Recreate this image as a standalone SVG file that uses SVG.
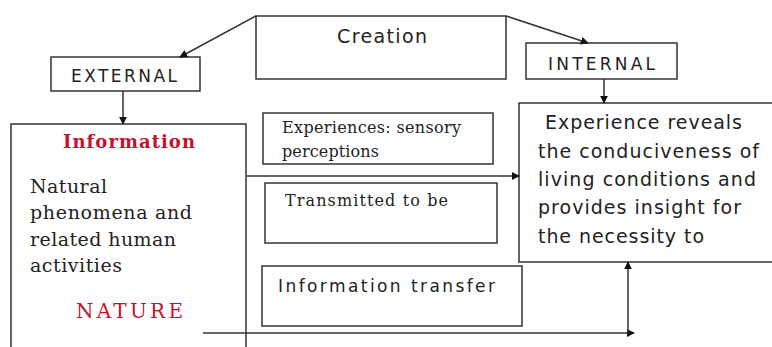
<svg xmlns="http://www.w3.org/2000/svg" width="772" height="347" viewBox="0 0 772 347">
<defs>
<style>
.box{fill:#fff;stroke:#333;stroke-width:1.5}
.ln{fill:none;stroke:#333;stroke-width:1.5}
.sans{font-family:"DejaVu Sans","Open Sans",sans-serif;fill:#222}
.serif{font-family:"DejaVu Serif","Liberation Serif",serif;fill:#222}
.red{fill:#c8102e}
</style>
<marker id="ah" viewBox="0 0 10 10" refX="9" refY="5" markerWidth="8" markerHeight="8" markerUnits="userSpaceOnUse" orient="auto">
<path d="M0,0 L10,5 L0,10 Z" fill="#111"/>
</marker>
</defs>
<rect width="772" height="347" fill="#fff"/>
<g id="creation">
<rect class="box" x="256" y="16" width="250" height="63"/>
<text class="sans" x="337" y="43" font-size="19" textLength="90">Creation</text>
</g>
<g id="external">
<rect class="box" x="51" y="57" width="149" height="34"/>
<text class="sans" x="71" y="82" font-size="17" textLength="106">EXTERNAL</text>
</g>
<g id="internal">
<rect class="box" x="526" y="43" width="151" height="36"/>
<text class="sans" x="548" y="70" font-size="17" textLength="107">INTERNAL</text>
</g>
<g id="information">
<rect class="box" x="11" y="124" width="235" height="240"/>
<text class="serif red" x="63" y="148" font-size="18" font-weight="bold" textLength="132">Information</text>
<text class="serif" font-size="19">
<tspan x="30" y="193" textLength="77">Natural</tspan>
<tspan x="30" y="219" textLength="162">phenomena and</tspan>
<tspan x="30" y="246" textLength="146">related human</tspan>
<tspan x="30" y="272" textLength="92">activities</tspan>
</text>
<text class="serif red" x="76" y="318" font-size="20" textLength="107">NATURE</text>
</g>
<g id="experiences">
<rect class="box" x="263" y="113" width="230" height="51"/>
<text class="serif" font-size="16">
<tspan x="282" y="133" textLength="179">Experiences: sensory</tspan>
<tspan x="282" y="157" textLength="97">perceptions</tspan>
</text>
</g>
<g id="transmitted">
<rect class="box" x="265" y="183" width="232" height="60"/>
<text class="serif" x="285" y="206" font-size="16" textLength="163">Transmitted to be</text>
</g>
<g id="transfer">
<rect class="box" x="262" y="266" width="260" height="60"/>
<text class="sans" x="278" y="292" font-size="17" textLength="217">Information transfer</text>
</g>
<g id="experience-reveals">
<rect class="box" x="519" y="103" width="260" height="159"/>
<text class="sans" font-size="19">
<tspan x="545" y="129" textLength="197">Experience reveals</tspan>
<tspan x="538" y="158" textLength="221">the conduciveness of</tspan>
<tspan x="538" y="186" textLength="218">living conditions and</tspan>
<tspan x="538" y="214" textLength="203">provides insight for</tspan>
<tspan x="538" y="243" textLength="166">the necessity to</tspan>
</text>
</g>
<g id="connectors">
<line class="ln" x1="256" y1="16" x2="180" y2="57" marker-end="url(#ah)"/>
<line class="ln" x1="506" y1="16" x2="588" y2="43" marker-end="url(#ah)"/>
<line class="ln" x1="123" y1="91" x2="123" y2="124" marker-end="url(#ah)"/>
<line class="ln" x1="604" y1="79" x2="604" y2="103" marker-end="url(#ah)"/>
<line class="ln" x1="247" y1="176" x2="519" y2="176" marker-end="url(#ah)"/>
<line class="ln" x1="203" y1="333" x2="634" y2="333" marker-end="url(#ah)"/>
<line class="ln" x1="628" y1="333" x2="628" y2="262" marker-end="url(#ah)"/>
</g>
</svg>
